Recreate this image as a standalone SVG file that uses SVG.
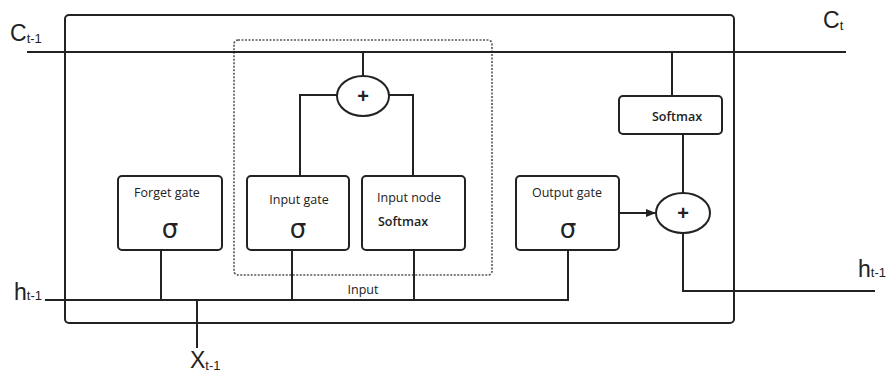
<svg xmlns="http://www.w3.org/2000/svg" width="888" height="374" viewBox="0 0 888 374">
<style>
.ln{stroke:#222;stroke-width:2;fill:none}
.box{stroke:#222;stroke-width:2;fill:#fff}
.t{font-family:"Open Sans","Liberation Sans",sans-serif;font-size:12.5px;fill:#222}
.plus{font-family:"Liberation Sans",Arial,sans-serif;font-size:20px;font-weight:bold;fill:#222;text-anchor:middle}
.sig{font-family:"DejaVu Sans","Liberation Sans",sans-serif;font-size:26px;fill:#222;text-anchor:middle}
.lab{font-family:"Liberation Sans",Arial,sans-serif;font-size:23px;fill:#222}
.sub{font-size:13px}
</style>
<defs>
<marker id="arr" markerWidth="10" markerHeight="8" refX="9" refY="4" orient="auto" markerUnits="userSpaceOnUse">
<path d="M0,0 L10,4 L0,8 z" fill="#222"/>
</marker>
</defs>
<rect width="888" height="374" fill="#fff"/>
<g id="cell">
<rect x="65" y="15" width="669" height="308" rx="4" class="ln"/>
</g>
<g id="input-region">
<rect x="234" y="40" width="258" height="235" rx="4" fill="none" stroke="#555" stroke-width="1.6" stroke-dasharray="2,1.5"/>
</g>
<g id="connectors">
<line x1="27" y1="52" x2="846" y2="52" class="ln"/>
<line x1="363" y1="52" x2="363" y2="76" class="ln"/>
<polyline points="337,95 300,95 300,176" class="ln"/>
<polyline points="389,95 413,95 413,176" class="ln"/>
<line x1="45" y1="300" x2="569" y2="300" class="ln"/>
<line x1="161" y1="250" x2="161" y2="300" class="ln"/>
<line x1="292" y1="250" x2="292" y2="300" class="ln"/>
<line x1="414" y1="250" x2="414" y2="300" class="ln"/>
<line x1="568" y1="250" x2="568" y2="300" class="ln"/>
<line x1="197" y1="300" x2="197" y2="348" class="ln"/>
<line x1="672" y1="52" x2="672" y2="96" class="ln"/>
<line x1="683" y1="134" x2="683" y2="193" class="ln"/>
<line x1="619" y1="213" x2="655" y2="213" class="ln" marker-end="url(#arr)"/>
<polyline points="683,233 683,291 875,291" class="ln"/>
</g>
<g id="add-input">
<ellipse cx="363" cy="96" rx="26" ry="20" class="box"/>
<text x="363" y="103" class="plus">+</text>
</g>
<g id="forget-gate">
<rect x="118" y="176" width="104" height="74" rx="4" class="box"/>
<text x="167" y="197" class="t" text-anchor="middle">Forget gate</text>
<text x="170" y="238" class="sig">σ</text>
</g>
<g id="input-gate">
<rect x="247" y="176" width="102" height="74" rx="4" class="box"/>
<text x="299" y="204" class="t" text-anchor="middle">Input gate</text>
<text x="298" y="238" class="sig">σ</text>
</g>
<g id="input-node">
<rect x="362" y="176" width="103" height="74" rx="4" class="box"/>
<text x="377" y="202" class="t">Input node</text>
<text x="378" y="226" class="t" style="font-weight:600">Softmax</text>
</g>
<g id="output-gate">
<rect x="516" y="176" width="103" height="74" rx="4" class="box"/>
<text x="567" y="197" class="t" text-anchor="middle">Output gate</text>
<text x="568" y="238" class="sig">σ</text>
</g>
<g id="softmax">
<rect x="619" y="96" width="103" height="38" rx="4" class="box"/>
<text x="677" y="121" class="t" text-anchor="middle" style="font-weight:600">Softmax</text>
</g>
<g id="add-output">
<ellipse cx="683" cy="213" rx="27" ry="20" class="box"/>
<text x="683" y="220" class="plus">+</text>
</g>
<g id="labels">
<text x="363" y="294" class="t" text-anchor="middle">Input</text>
<text x="10" y="41" class="lab">C<tspan class="sub" dy="2">t-1</tspan></text>
<text x="823" y="28" class="lab">C<tspan class="sub" dy="2">t</tspan></text>
<text x="14" y="300" class="lab">h<tspan class="sub">t-1</tspan></text>
<text x="858" y="277" class="lab">h<tspan class="sub">t-1</tspan></text>
<text x="190" y="368" class="lab">X<tspan class="sub" dy="2">t-1</tspan></text>
</g>
</svg>
